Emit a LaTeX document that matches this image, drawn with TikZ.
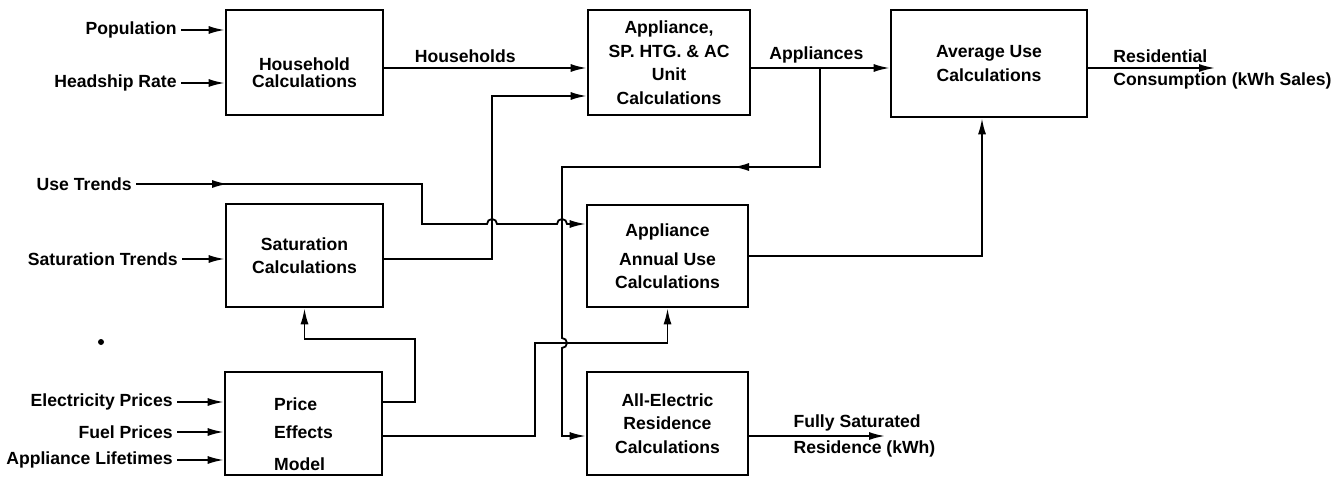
\documentclass[tikz,border=0pt]{standalone}
\usepackage{fontspec}
\setmainfont{Liberation Sans}
\usetikzlibrary{arrows.meta, positioning, decorations.markings}

\begin{document}
\begin{tikzpicture}[
  x=0.5pt, y=0.5pt,
  font=\fontsize{8.8}{11.75}\selectfont\bfseries,
  box/.style   ={draw, line width=1.3pt, align=center, inner sep=0pt},
  inp/.style   ={anchor=east, inner sep=2pt},
  lbl/.style   ={inner sep=2pt},
  arr/.style   ={-{Latex[length=8pt, width=4pt]}, line width=0.9pt},
  midarr/.style={postaction={decorate}, decoration={markings,
                 mark=at position #1 with {\arrow{Latex[length=8pt, width=4pt]}}}},
]
\useasboundingbox (0,0) rectangle (1342,-476);

% rows where the connectors run
\coordinate (hrow)  at (0,-68);
\coordinate (urow)  at (0,-96);
\coordinate (utrow) at (0,-224);
\coordinate (srow)  at (0,-259);
\coordinate (prow)  at (0,-402);
\coordinate (erow)  at (0,-436);
\coordinate (fork)  at (820,-68);
\coordinate (resout) at (1215,-68);
\coordinate (satout) at (885,-436);

% boxes
\node[box, minimum width=78.5pt, minimum height=52.5pt,
      font=\fontsize{8.8}{8.4}\selectfont\bfseries] (hh) at (304.5,-62.5)
  {\rule{0pt}{16.6pt}Household\\Calculations};
\node[box, minimum width=81pt, minimum height=52.5pt] (unit) at (669,-62.5)
  {Appliance,\\SP. HTG. \& AC\\Unit\\Calculations};
\node[box, minimum width=98pt, minimum height=53.5pt] (avg) at (989,-63.5)
  {Average Use\\Calculations};
\node[box, minimum width=78.5pt, minimum height=51.5pt] (sat) at (304.5,-255.5)
  {Saturation\\Calculations};
\node[box, minimum width=80.5pt, minimum height=51pt] (annual) at (667.5,-256)
  {Appliance\\[2.75pt]Annual Use\\Calculations};
\node[box, minimum width=78.5pt, minimum height=51.5pt, align=left] (price) at (303.5,-423.5)
  {\rule{0pt}{16.6pt}Price\\[2.25pt]Effects\\[4.25pt]Model};
\node[box, minimum width=80.5pt, minimum height=51.5pt] (allel) at (667.5,-423.5)
  {All-Electric\\Residence\\Calculations};

% inputs
\node[inp] (pop)   at (181,-30)  {Population};
\node[inp] (head)  at (181,-83)  {Headship Rate};
\node[inp] (use)   at (136,-184) {Use Trends};
\node[inp] (sattr) at (182,-259) {Saturation Trends};
\node[inp] (elp)   at (177,-402) {Electricity Prices};
\node[inp] (fup)   at (177,-432) {Fuel Prices};
\node[inp] (life)  at (177,-460) {Appliance Lifetimes};
\node[circle, fill, inner sep=0pt, minimum size=3pt] (dot) at (101,-342) {};

\foreach \a/\b in {pop/hh, head/hh, sattr/sat, elp/price, fup/price, life/price}
  \draw[arr] (\a.east) -- (\a.east -| \b.west);

% main flow
\draw[arr] (hh.east |- hrow) -- node[lbl, above, pos=0.4] {Households} (unit.west |- hrow);
\draw[arr] (unit.east |- hrow) -- node[lbl, above, pos=0.47] {Appliances} (avg.west |- hrow);
\draw[arr] (avg.east |- hrow) --
  node[lbl, pos=0.16, anchor=south west] {Residential}
  node[lbl, pos=0.16, anchor=north west] {Consumption (kWh Sales)} (resout);
\draw[arr] (sat.east |- srow) -| (492,-96) -- (unit.west |- urow);
\draw[arr, midarr=46pt] (use.east) -- (422,-184) -- (422,-224)
  -- (487,-224) arc[start angle=180, end angle=0, radius=2.5pt]
  -- (557,-224) arc[start angle=180, end angle=0, radius=2.5pt]
  -- (annual.west |- utrow);
\draw[arr, midarr=93pt] (fork) -- (820,-167) -- (562,-167) -- (562,-338)
  arc[start angle=90, end angle=-90, radius=2.5pt] |- (allel.west |- erow);
\draw[arr] (price.east |- prow) -| (415,-339) -| (sat.south);
\draw[arr] (price.east |- erow) -| (535,-343) -| (annual.south);
\draw[arr] (annual.east) -| ([xshift=-3.5pt]avg.south);
\draw[arr] (allel.east |- erow) --
  node[lbl, pos=0.29, anchor=south west] {Fully Saturated}
  node[lbl, pos=0.29, anchor=north west] {Residence (kWh)} (satout);
\end{tikzpicture}
\end{document}
